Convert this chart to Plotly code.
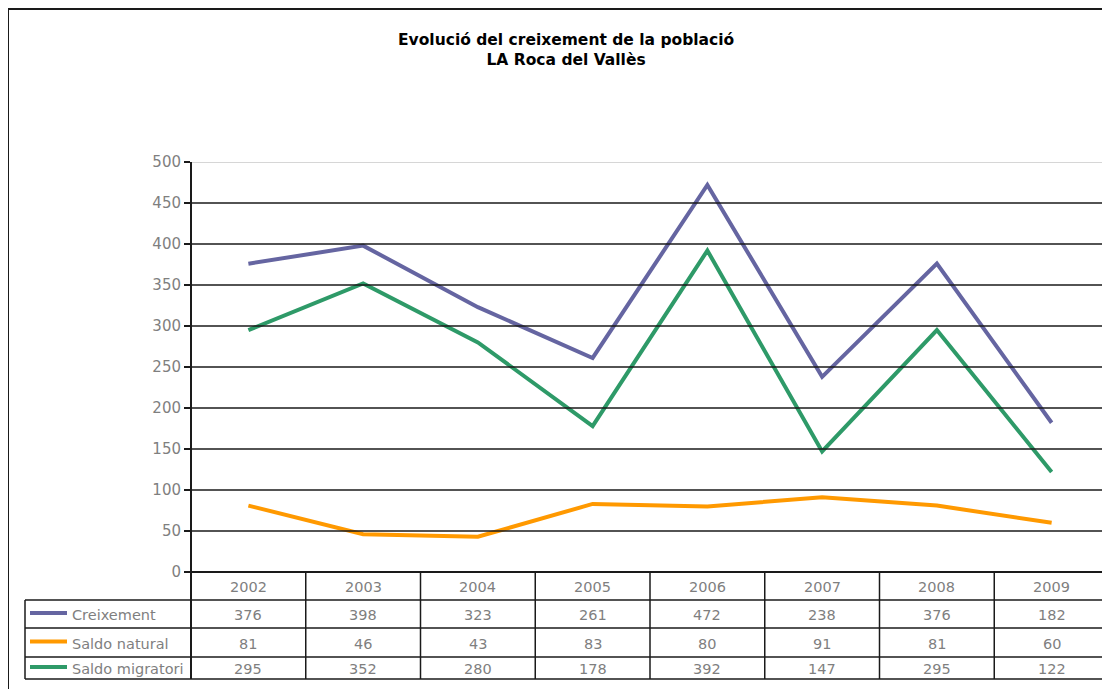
import plotly.graph_objects as go

years = ["2002", "2003", "2004", "2005", "2006", "2007", "2008", "2009"]
creixement = [376, 398, 323, 261, 472, 238, 376, 182]
saldo_natural = [81, 46, 43, 83, 80, 91, 81, 60]
saldo_migratori = [295, 352, 280, 178, 392, 147, 295, 122]
series_names = ["Creixement", "Saldo natural", "Saldo migratori"]
series_values = [creixement, saldo_natural, saldo_migratori]
series_colors = ["#6565A1", "#FF9900", "#2E9A68"]
y_ticks = [0, 50, 100, 150, 200, 250, 300, 350, 400, 450, 500]

W, H = 1110, 689
OFF = 8  # page body margin
def px(x):
    return (x - OFF) / W
def py(y):
    return 1 - (y - OFF) / H

PLOT_L, PLOT_R, PLOT_T, PLOT_B = 191, 1109, 162, 572
ROWS = [572, 600, 628, 657, 679]
LEG_L = 25
FONT = "DejaVu Sans"
GRAY = "#7F7F7F"

n = len(years)
xs = list(range(n))

fig = go.Figure()
for name, vals, col in zip(series_names, series_values, series_colors):
    fig.add_trace(go.Scatter(x=xs, y=vals, mode="lines", name=name,
                             line=dict(color=col, width=4), showlegend=False))

shapes = []
# gridlines
for t in y_ticks[1:]:
    shapes.append(dict(type="line", xref="paper", yref="y", x0=px(PLOT_L), x1=px(PLOT_R + 1),
                       y0=t, y1=t,
                       line=dict(color="#C8C8C8" if t == y_ticks[-1] else "#1A1A1A", width=1.6)))
# y axis line extended through table
shapes.append(dict(type="line", xref="paper", yref="paper", x0=px(PLOT_L), x1=px(PLOT_L),
                   y0=py(PLOT_T), y1=py(ROWS[-1]), line=dict(color="#1A1A1A", width=2)))
# x axis line
shapes.append(dict(type="line", xref="paper", yref="paper", x0=px(PLOT_L), x1=px(PLOT_R),
                   y0=py(PLOT_B), y1=py(PLOT_B), line=dict(color="#1A1A1A", width=2)))
# table horizontal lines
for r in ROWS[1:]:
    shapes.append(dict(type="line", xref="paper", yref="paper", x0=px(LEG_L), x1=px(PLOT_R),
                       y0=py(r), y1=py(r), line=dict(color="#1A1A1A", width=1.5)))
# legend column left border
shapes.append(dict(type="line", xref="paper", yref="paper", x0=px(LEG_L), x1=px(LEG_L),
                   y0=py(ROWS[1]), y1=py(ROWS[-1]), line=dict(color="#1A1A1A", width=1.5)))
# column separators (category boundaries)
for i in range(1, n + 1):
    shapes.append(dict(type="line", xref="x", yref="paper", x0=i - 0.5, x1=i - 0.5,
                       y0=py(ROWS[0]), y1=py(ROWS[-1]), line=dict(color="#1A1A1A", width=1.5)))
# legend keys
for j, col in enumerate(series_colors):
    yc = (ROWS[j + 1] + ROWS[j + 2]) / 2
    shapes.append(dict(type="line", xref="paper", yref="paper", x0=px(30), x1=px(67),
                       y0=py(yc - 1), y1=py(yc - 1), line=dict(color=col, width=4)))
# outer chart border
shapes.append(dict(type="line", xref="paper", yref="paper", x0=px(8), x1=px(8),
                   y0=py(9), y1=0, line=dict(color="#1A1A1A", width=2)))
shapes.append(dict(type="line", xref="paper", yref="paper", x0=px(8), x1=1,
                   y0=py(9), y1=py(9), line=dict(color="#1A1A1A", width=2)))

annotations = []
for i, yr in enumerate(years):
    annotations.append(dict(x=i, y=py((ROWS[0] + ROWS[1]) / 2 + 1), xref="x", yref="paper",
                            text=yr, showarrow=False, xanchor="center", yanchor="middle",
                            font=dict(family=FONT, size=14.5, color=GRAY)))
for j, (name, vals) in enumerate(zip(series_names, series_values)):
    yc = py((ROWS[j + 1] + ROWS[j + 2]) / 2 + 1)
    annotations.append(dict(x=px(70), y=yc, xref="paper", yref="paper", text=name,
                            xanchor="left", yanchor="middle", showarrow=False,
                            font=dict(family=FONT, size=14.5, color=GRAY)))
    for i, v in enumerate(vals):
        annotations.append(dict(x=i, y=yc, xref="x", yref="paper", text=str(v), showarrow=False,
                                xanchor="center", yanchor="middle",
                                font=dict(family=FONT, size=14.5, color=GRAY)))
annotations.append(dict(x=px(566), y=py(50), xref="paper", yref="paper",
                        text="<b>Evolució del creixement de la població<br>LA Roca del Vallès</b>",
                        showarrow=False, align="center", xanchor="center", yanchor="middle",
                        font=dict(family=FONT, size=15.5, color="black")))

fig.update_layout(
    width=W, height=H,
    margin=dict(l=0, r=0, t=0, b=0, pad=0),
    paper_bgcolor="white", plot_bgcolor="white",
    xaxis=dict(domain=[px(PLOT_L), px(PLOT_R)], range=[-0.5, n - 0.5],
               showticklabels=False, showgrid=False, zeroline=False, showline=False,
               fixedrange=True, automargin=False),
    yaxis=dict(domain=[py(PLOT_B), py(PLOT_T)], range=[0, 500], tickvals=y_ticks,
               ticks="outside", ticklen=6, tickcolor="#1A1A1A", tickwidth=1.5,
               showgrid=False, zeroline=False, showline=False, automargin=False,
               tickfont=dict(family=FONT, size=15, color=GRAY), fixedrange=True),
    shapes=shapes, annotations=annotations,
)

fig.write_html("out.html")
